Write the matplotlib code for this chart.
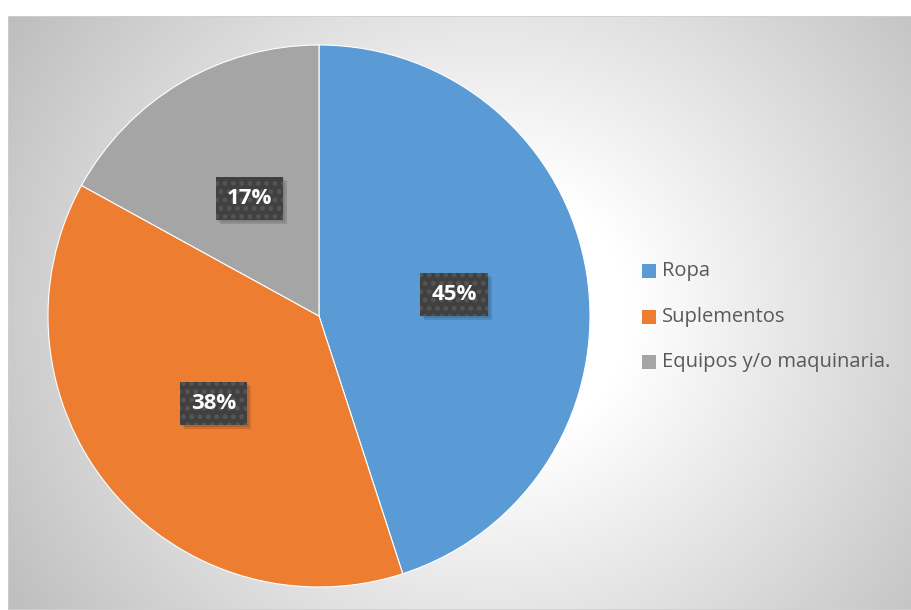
import numpy as np
import matplotlib
matplotlib.use("Agg")
import matplotlib.pyplot as plt
from matplotlib.transforms import IdentityTransform

categories = ["Ropa", "Suplementos", "Equipos y/o maquinaria."]
shares = [45, 38, 17]
colors = ["#5B9BD5", "#ED7D31", "#A5A5A5"]

W, H = 912, 610
fig = plt.figure(figsize=(W / 100, H / 100), dpi=100, facecolor="white")

# chart area with a radial grey-to-white fill
x0, y0 = 8, 16
bg = fig.add_axes([x0 / W, 0, (W - x0) / W, (H - y0) / H])
bg.set_axis_off()
gw, gh = W - x0, H - y0
yy, xx = np.mgrid[0:gh, 0:gw]
cx, cy = 490 - x0, 315 - y0
r = np.hypot(xx - cx, (yy - cy) * 1.05)
t = np.clip((r - 140) / 430, 0, 1)
lum = 1.0 - t * (1.0 - 0.745)
img = np.dstack([lum, lum, lum])
bg.imshow(img, extent=[0, gw, gh, 0], aspect="auto", interpolation="bilinear")
bg.set_xlim(0, gw)
bg.set_ylim(gh, 0)
bg.plot([0, gw, gw, 0, 0], [0, 0, gh, gh, 0], color="#d0d0d0", lw=1.2)

# pie
pcx, pcy, pr = 319, 316, 271
ax = fig.add_axes([(pcx - pr) / W, (H - pcy - pr) / H, 2 * pr / W, 2 * pr / H])
ax.set_axis_off()
wedges, _ = ax.pie(shares, colors=colors, startangle=90, counterclock=False,
                   radius=1.0, wedgeprops=dict(edgecolor="white", linewidth=0.8))
ax.set_xlim(-1, 1)
ax.set_ylim(-1, 1)

# percentage labels in dark patterned boxes
plt.rcParams["hatch.linewidth"] = 2.2
labels = []
cum = 0
for val in shares:
    mid = 90 - (cum + val / 2) / 100 * 360
    cum += val
    d = 0.505
    tx, ty = d * np.cos(np.radians(mid)), d * np.sin(np.radians(mid))
    labels.append(ax.text(tx, ty, f"{val}%", color="white", ha="center", va="center",
                          fontsize=16, fontweight="bold", family="Open Sans",
                          bbox=dict(boxstyle="square,pad=0.5", fc="#404040",
                                    ec="#555555", lw=0, hatch="..")))

# soft drop shadow behind each label box
fig.canvas.draw()
renderer = fig.canvas.get_renderer()
for lab in labels:
    ext = lab.get_bbox_patch().get_window_extent(renderer)
    for k, a in enumerate([0.10, 0.12]):
        off = 2 + 2 * k
        ax.add_patch(plt.Rectangle((ext.x0 + off, ext.y0 - off), ext.width, ext.height,
                                   transform=IdentityTransform(), fc="black",
                                   ec="none", alpha=a, zorder=2))

# legend
leg_x, leg_y = 642, [271, 317, 362]
sq = 14
for name, col, yv in zip(categories, colors, leg_y):
    fig.patches.append(plt.Rectangle((leg_x / W, (H - yv - sq / 2) / H), sq / W, sq / H,
                                     transform=fig.transFigure, fc=col, ec="none"))
    fig.text((leg_x + sq + 6) / W, (H - yv) / H, name, ha="left", va="center",
             color="#595959", fontsize=14.5, family="Open Sans")

fig.savefig("out.png", dpi=100, facecolor="white")
